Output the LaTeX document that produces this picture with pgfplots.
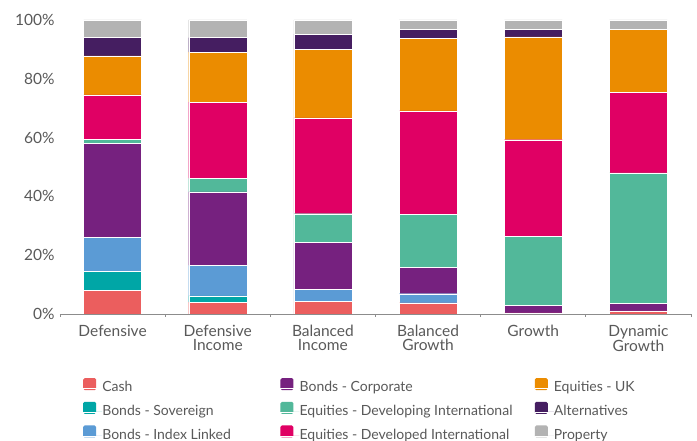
\documentclass[border=0pt]{standalone}
\usepackage{fontspec}
\setmainfont{Lato}
\usepackage{pgfplots}
\usepackage{pgfplotstable}
\pgfplotsset{compat=1.18}

\definecolor{cash}{HTML}{EB5E5E}
\definecolor{sov}{HTML}{00A6A6}
\definecolor{idx}{HTML}{5B9BD5}
\definecolor{corp}{HTML}{76217F}
\definecolor{deving}{HTML}{52B89A}
\definecolor{deved}{HTML}{E00064}
\definecolor{uk}{HTML}{EB8C00}
\definecolor{alt}{HTML}{451E61}
\definecolor{prop}{HTML}{B3B3B3}
\definecolor{txt}{HTML}{595959}

% allocation, % of portfolio
\pgfplotstableread{
x cash sov  idx  corp deving deved uk   alt prop
0 8.0  6.5  11.5 32.0 1.5    15.0  13.3 6.2 6.0
1 4.0  2.2  10.3 25.0 4.6    26.0  17.0 4.9 6.0
2 4.3  0    4.1  15.9 9.8    32.6  23.3 5.2 4.8
3 3.8  0    3.1  8.9  18.0   35.3  24.7 3.1 3.1
4 0.4  0    0    2.5  23.5   32.9  35.0 2.5 3.2
5 1.1  0    0    2.5  44.4   27.3  21.6 0   3.1
}\alloc

\begin{document}
\begin{tikzpicture}
\useasboundingbox (-60pt,-127pt) rectangle (637pt,314pt);
\begin{axis}[
  at={(0pt,0pt)}, anchor=south west,
  scale only axis, width=631pt, height=294pt,
  ybar stacked, bar width=58pt,
  xmin=-0.5, xmax=5.5, ymin=0, ymax=100,
  axis x line*=bottom, axis y line*=left,
  x axis line style={draw=black!45, line width=0.8pt},
  y axis line style={draw=none},
  xtick={0,...,5},
  xticklabels={Defensive,{Defensive\\Income},{Balanced\\Income},{Balanced\\Growth},Growth,{Dynamic\\Growth}},
  xticklabel style={align=center, inner sep=0pt, yshift=-7pt, text=txt, font=\fontsize{15.5}{14}\selectfont},
  major x tick style={draw=none},
  minor xtick={-0.5,0.5,...,5.5},
  minor tick length=3pt, tick align=outside,
  minor x tick style={draw=black!45, line width=0.8pt},
  ytick={0,20,...,100},
  ytick style={draw=none},
  yticklabel={\pgfmathprintnumber{\tick}\%},
  yticklabel style={inner sep=0pt, xshift=-1pt, text=txt, font=\fontsize{15.5}{14}\selectfont},
  /pgf/number format/assume math mode=true,
  every axis plot/.append style={draw=white, line width=0.3pt},
  legend columns=3, transpose legend,
  legend image code/.code={
    \fill[#1, draw=none, rounded corners=1.5pt] (0pt,-1.8pt) rectangle (13pt,10.2pt);
    \path (0pt,0pt) -- (19pt,0pt);
  },
  legend style={at={(axis description cs:0.0365,-0.218)}, anchor=north west,
    draw=none, inner sep=0pt, outer sep=0pt,
    nodes={inner sep=0pt, text height=10pt, text depth=3pt, text=txt, font=\fontsize{14}{14}\selectfont},
    /tikz/row sep=7pt, /tikz/column sep=0pt},
]
\addplot[fill=cash] table[x=x, y=cash] {\alloc};
\addlegendentry{\makebox[178pt][l]{Cash}}
\addplot[fill=sov] table[x=x, y=sov] {\alloc};
\addlegendentry{\makebox[178pt][l]{Bonds - Sovereign}}
\addplot[fill=idx] table[x=x, y=idx] {\alloc};
\addlegendentry{\makebox[178pt][l]{Bonds - Index Linked}}
\addplot[fill=corp] table[x=x, y=corp] {\alloc};
\addlegendentry{\makebox[235pt][l]{Bonds - Corporate}}
\addplot[fill=deving] table[x=x, y=deving] {\alloc};
\addlegendentry{\makebox[235pt][l]{Equities - Developing International}}
\addplot[fill=deved] table[x=x, y=deved] {\alloc};
\addlegendentry{\makebox[235pt][l]{Equities - Developed International}}
\addplot[fill=uk] table[x=x, y=uk] {\alloc};
\addlegendentry{\makebox[110pt][l]{Equities - UK}}
\addplot[fill=alt] table[x=x, y=alt] {\alloc};
\addlegendentry{\makebox[110pt][l]{Alternatives}}
\addplot[fill=prop] table[x=x, y=prop] {\alloc};
\addlegendentry{\makebox[110pt][l]{Property}}
\end{axis}
\end{tikzpicture}
\end{document}
